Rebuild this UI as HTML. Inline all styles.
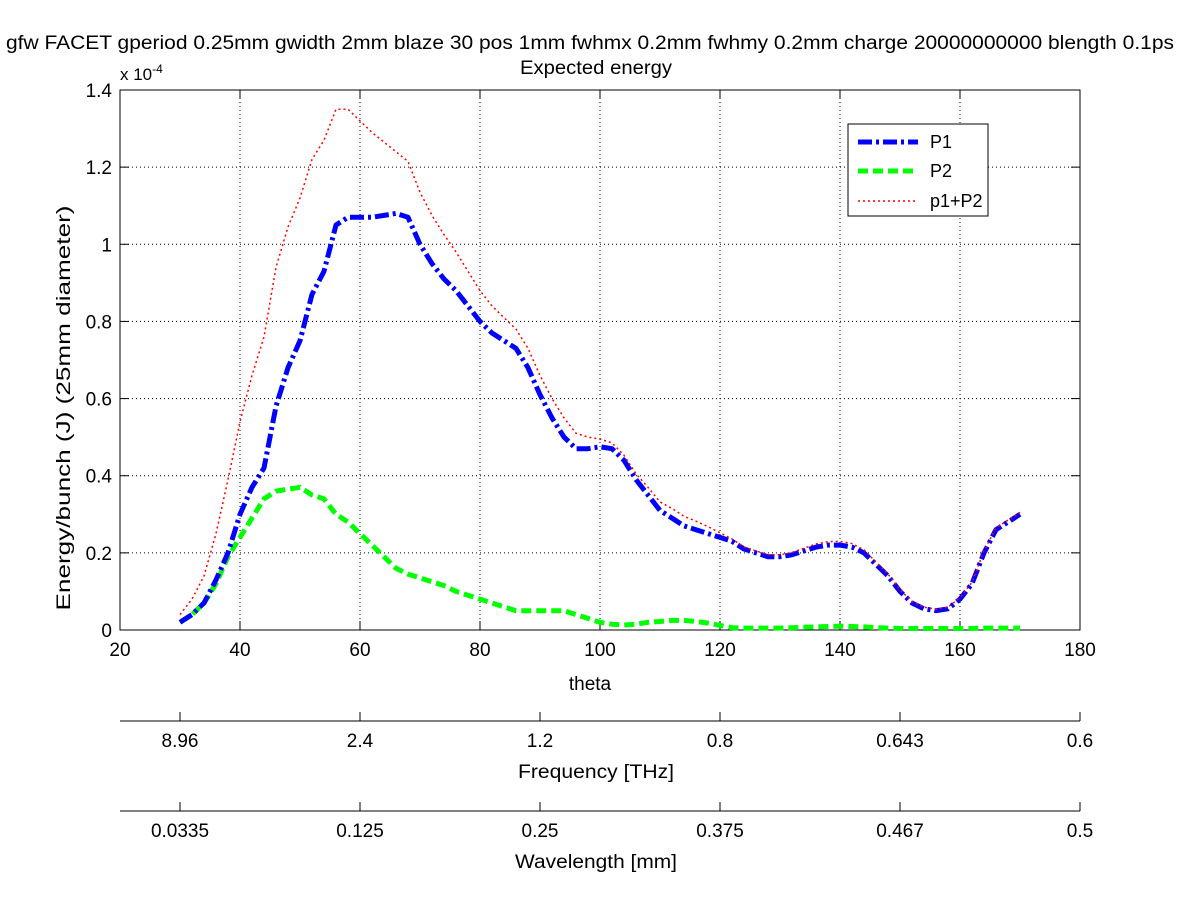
<!DOCTYPE html>
<html><head><meta charset="utf-8"><style>
html,body{margin:0;padding:0;background:#fff;}
svg{display:block;font-family:"Liberation Sans",sans-serif;}
</style></head><body>
<svg id="chart" width="1200" height="901" viewBox="0 0 1200 901">
<rect width="1200" height="901" fill="#fff"/>
<text x="590" y="49" font-size="19" text-anchor="middle" textLength="1168" lengthAdjust="spacingAndGlyphs">gfw FACET gperiod 0.25mm gwidth 2mm blaze 30 pos 1mm fwhmx 0.2mm fwhmy 0.2mm charge 20000000000 blength 0.1ps</text>
<text x="596" y="74" font-size="19" text-anchor="middle" textLength="152" lengthAdjust="spacingAndGlyphs">Expected energy</text>
<text x="120" y="80" font-size="17">x 10<tspan dy="-7" font-size="12">-4</tspan></text>
<g id="grid"></g>
<g id="axes"></g>
<g id="series"></g>
<text x="590" y="690" font-size="19" text-anchor="middle">theta</text>
<text transform="translate(70,408) rotate(-90)" font-size="19" text-anchor="middle" textLength="405" lengthAdjust="spacingAndGlyphs">Energy/bunch (J) (25mm diameter)</text>
<text x="596" y="778" font-size="19" text-anchor="middle" textLength="156" lengthAdjust="spacingAndGlyphs">Frequency [THz]</text>
<text x="596" y="868" font-size="19" text-anchor="middle" textLength="162" lengthAdjust="spacingAndGlyphs">Wavelength [mm]</text>
<g>
<rect x="848" y="124" width="140" height="92" fill="#fff" stroke="#000" stroke-width="1"/>
<line x1="858" y1="142" x2="918" y2="142" stroke="#0000ff" stroke-width="5" stroke-dasharray="14,4,3,4"/>
<text x="930" y="148" font-size="18">P1</text>
<line x1="858" y1="171" x2="918" y2="171" stroke="#00ff00" stroke-width="5" stroke-dasharray="10,5"/>
<text x="930" y="177" font-size="18">P2</text>
<line x1="858" y1="201" x2="918" y2="201" stroke="#ff0000" stroke-width="1.5" stroke-dasharray="2,3"/>
<text x="930" y="207" font-size="18">p1+P2</text>
</g>
</svg>
<script>
const theta = [30,32,34,36,38,40,42,44,46,48,50,52,54,56,58,60,62,64,66,68,70,72,74,76,78,80,82,84,86,88,90,92,94,96,98,100,102,104,106,108,110,112,114,116,118,120,122,124,126,128,130,132,134,136,138,140,142,144,146,148,150,152,154,156,158,160,162,164,166,168,170];
const p1 = [0.02,0.04,0.07,0.13,0.2,0.3,0.37,0.42,0.58,0.68,0.75,0.87,0.93,1.05,1.07,1.07,1.07,1.075,1.08,1.07,1.0,0.95,0.91,0.88,0.84,0.8,0.77,0.75,0.73,0.68,0.61,0.55,0.5,0.47,0.47,0.475,0.47,0.44,0.39,0.35,0.31,0.29,0.27,0.26,0.25,0.24,0.23,0.21,0.2,0.19,0.19,0.195,0.205,0.215,0.22,0.22,0.215,0.2,0.17,0.14,0.1,0.07,0.055,0.05,0.055,0.08,0.12,0.2,0.26,0.28,0.3];
const p2 = [0.02,0.04,0.07,0.12,0.19,0.24,0.29,0.34,0.36,0.365,0.37,0.35,0.34,0.3,0.28,0.25,0.22,0.19,0.16,0.145,0.135,0.125,0.115,0.1,0.09,0.08,0.07,0.06,0.05,0.05,0.05,0.05,0.05,0.04,0.03,0.02,0.015,0.013,0.015,0.02,0.022,0.025,0.025,0.022,0.018,0.012,0.006,0.005,0.005,0.005,0.005,0.006,0.007,0.008,0.009,0.01,0.009,0.008,0.006,0.005,0.004,0.004,0.004,0.004,0.004,0.004,0.004,0.005,0.005,0.005,0.005];
const xTicks = [20,40,60,80,100,120,140,160,180];
const yTicks = [0,0.2,0.4,0.6,0.8,1,1.2,1.4];
const freqLabels = ["8.96","2.4","1.2","0.8","0.643","0.6"];
const waveLabels = ["0.0335","0.125","0.25","0.375","0.467","0.5"];
const secTickTheta = [30,60,90,120,150,180];

const NS="http://www.w3.org/2000/svg";
const X0=120,X1=1080,Y0=630,Y1=90;
const xs=t=>X0+(t-20)/160*(X1-X0);
const ys=v=>Y0-v/1.4*(Y0-Y1);
function mk(tag,attrs,parent){const e=document.createElementNS(NS,tag);for(const k in attrs)e.setAttribute(k,attrs[k]);parent.appendChild(e);return e;}
const grid=document.getElementById('grid'),axes=document.getElementById('axes'),series=document.getElementById('series');
xTicks.forEach(t=>{
  if(t>20&&t<180){const g=mk('line',{x1:xs(t),x2:xs(t),y1:Y1,y2:Y0,stroke:'#000','stroke-width':1,'stroke-dasharray':'1,3'},grid);
  
  }
  const tk=mk('line',{x1:xs(t),x2:xs(t),y1:Y0,y2:Y0-9,stroke:'#000'},axes);
  
  
  const tk2=mk('line',{x1:xs(t),x2:xs(t),y1:Y1,y2:Y1+9,stroke:'#000'},axes);
  
  
  const lb=mk('text',{x:xs(t),y:Y0+26,'font-size':19,'text-anchor':'middle'},axes);lb.textContent=t;
  
  
});
yTicks.forEach(v=>{
  if(v>0&&v<1.4){const g=mk('line',{x1:X0,x2:X1,y1:ys(v),y2:ys(v),stroke:'#000','stroke-width':1,'stroke-dasharray':'1,3'},grid);
  
  }
  const tk=mk('line',{x1:X0,x2:X0+9,y1:ys(v),y2:ys(v),stroke:'#000'},axes);
  
  
  const tk2=mk('line',{x1:X1,x2:X1-9,y1:ys(v),y2:ys(v),stroke:'#000'},axes);
  
  
  const lb=mk('text',{x:X0-8,y:ys(v)+7,'font-size':19,'text-anchor':'end'},axes);lb.textContent=String(v);
  
  
});
const box=mk('rect',{x:X0,y:Y1,width:X1-X0,height:Y0-Y1,fill:'none',stroke:'#000','stroke-width':1},axes);


[[721,freqLabels,'frequency'],[811,waveLabels,'wavelength']].forEach(([ay,labels,nm])=>{
  const l=mk('line',{x1:X0,x2:X1,y1:ay,y2:ay,stroke:'#000'},axes);
  
  
  labels.forEach((s,i)=>{
    const x=xs(secTickTheta[i]);
    const t=mk('line',{x1:x,x2:x,y1:ay,y2:ay-9,stroke:'#000'},axes);
    
    
    const lb=mk('text',{x:x,y:ay+26,'font-size':19,'text-anchor':'middle'},axes);lb.textContent=s;
    
    
  });
});
function path(vals,stroke,w,dash,name){
  const d=vals.map((v,i)=>(i?'L':'M')+xs(theta[i]).toFixed(1)+','+ys(v).toFixed(1)).join(' ');
  const p=mk('path',{d:d,fill:'none',stroke:stroke,'stroke-width':w,'stroke-dasharray':dash,'stroke-linejoin':'round'},series);
  
  
}
const sum=p1.map((v,i)=>v+p2[i]);
path(p2,'#00ff00',5,'10,5','line-p2');
path(p1,'#0000ff',5,'14,4,3,4','line-p1');
path(sum,'#ff0000',1.5,'2,3','line-p1-plus-p2');
</script>
</body></html>
